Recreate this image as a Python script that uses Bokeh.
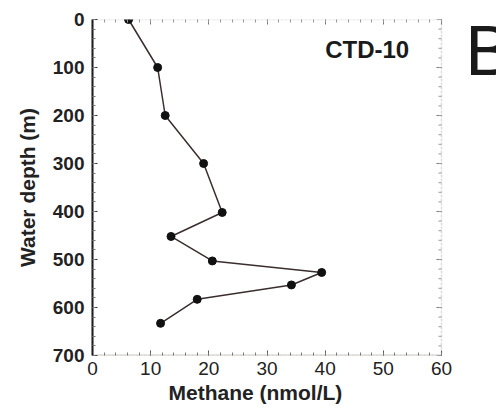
from bokeh.plotting import figure
from bokeh.models import (Range1d, LinearAxis, Label, FixedTicker, CustomJSTickFormatter,
                          BoxAnnotation, Title)
from bokeh.embed import file_html
from bokeh.resources import INLINE

methane = [6.2, 11.2, 12.5, 19.1, 22.3, 13.5, 20.6, 39.4, 34.2, 18.0, 11.7]
depth = [0, 100, 200, 300, 402, 452, 503, 527, 553, 583, 633]
x_ticks = [0, 10, 20, 30, 40, 50, 60]
y_ticks = [0, 100, 200, 300, 400, 500, 600, 700]
station = "CTD-10"
panel = "B"
x_title = "Methane (nmol/L)"
y_title = "Water depth (m)"

x_min, x_max = 0, 60
y_min, y_max = 0, 700
x_minor = list(range(x_min, x_max + 1, 2))
y_minor = list(range(y_min, y_max + 1, 20))

# layout (pixels): plot box spans 92..441 horizontally; the frame reaches the
# right edge so the panel letter can sit outside the box
W, H = 496, 412
box_left, box_right = 92, 441
px_per_x = (box_right - box_left) / (x_max - x_min)
x_end = x_min + (W - box_left) / px_per_x

FONT = "Liberation Sans"

p = figure(width=W, height=H, output_backend="svg", toolbar_location=None,
           x_range=Range1d(x_min, x_end), y_range=Range1d(y_max, y_min),
           min_border_left=box_left, min_border_right=0, min_border_top=19, min_border_bottom=57)
p.outline_line_color = None
p.xgrid.visible = False
p.ygrid.visible = False
p.background_fill_color = "white"

xa = p.xaxis[0]
xa.ticker = FixedTicker(ticks=x_ticks, minor_ticks=x_minor)
xa.major_label_text_font = FONT
xa.major_label_text_font_size = "19px"
xa.major_label_text_color = "#222222"
xa.major_label_standoff = 6
xa.major_tick_in = 5
xa.major_tick_out = 0
xa.minor_tick_in = 3
xa.minor_tick_out = 0
xa.axis_line_color = None
xa.major_tick_line_color = "#555555"
xa.minor_tick_line_color = "#777777"

p.add_layout(Title(text=x_title, align="left", offset=76, text_font=FONT,
                   text_font_style="bold", text_font_size="21px", text_color="#222222",
                   standoff=3), "below")

ya = p.yaxis[0]
ya.ticker = FixedTicker(ticks=y_ticks, minor_ticks=y_minor)
ya.axis_label = y_title
ya.axis_label_text_font = FONT
ya.axis_label_text_font_style = "bold"
ya.axis_label_text_font_size = "21px"
ya.axis_label_text_color = "#222222"
ya.axis_label_standoff = 11
ya.major_label_text_font = FONT
ya.major_label_text_font_style = "bold"
ya.major_label_text_font_size = "19px"
ya.major_label_text_color = "#222222"
ya.major_label_standoff = 8
ya.major_tick_in = 5
ya.major_tick_out = 0
ya.minor_tick_in = 3
ya.minor_tick_out = 0
ya.axis_line_color = "#111111"
ya.axis_line_width = 2
ya.major_tick_line_color = "#333333"
ya.minor_tick_line_color = "#777777"

blank = CustomJSTickFormatter(code="return ''")
top = LinearAxis(ticker=FixedTicker(ticks=x_ticks, minor_ticks=x_minor), formatter=blank,
                 major_label_standoff=0, major_tick_in=5, major_tick_out=0,
                 minor_tick_in=3, minor_tick_out=0, axis_line_color=None,
                 major_tick_line_color="#777777", minor_tick_line_color="#999999")
p.add_layout(top, "above")

# plot box: dotted grey top/right, solid grey bottom
p.add_layout(BoxAnnotation(left=x_min, right=x_max, top=y_min, bottom=y_max,
                           fill_alpha=0, line_color="#9a8a8a", line_width=1.5, line_dash="3 1"))
p.add_layout(BoxAnnotation(left=x_min, right=x_max, top=y_max, bottom=y_max,
                           fill_alpha=0, line_color="#7a6a6a", line_width=2))

# inward ticks on the right side of the box
tick_len = 5 / px_per_x
mtick_len = 3 / px_per_x
p.segment(x0=[x_max] * len(y_ticks), y0=y_ticks, x1=[x_max - tick_len] * len(y_ticks), y1=y_ticks,
          line_color="#777777", line_width=1)
p.segment(x0=[x_max] * len(y_minor), y0=y_minor, x1=[x_max - mtick_len] * len(y_minor), y1=y_minor,
          line_color="#999999", line_width=1)

p.line(methane, depth, line_color="#3a2e2e", line_width=1.5)
p.scatter(methane, depth, size=8, fill_color="#111111", line_color="#111111")

p.add_layout(Label(x=40, y=62, text=station, text_font=FONT, text_font_style="bold",
                   text_font_size="24px", text_color="#1a1a1a", text_baseline="alphabetic"))
p.add_layout(Label(x=64.1, y=66, text=panel, text_font=FONT, text_font_size="70px",
                   text_color="#1a1a1a", text_baseline="alphabetic"))

open("out.html", "w").write(file_html(p, INLINE))
